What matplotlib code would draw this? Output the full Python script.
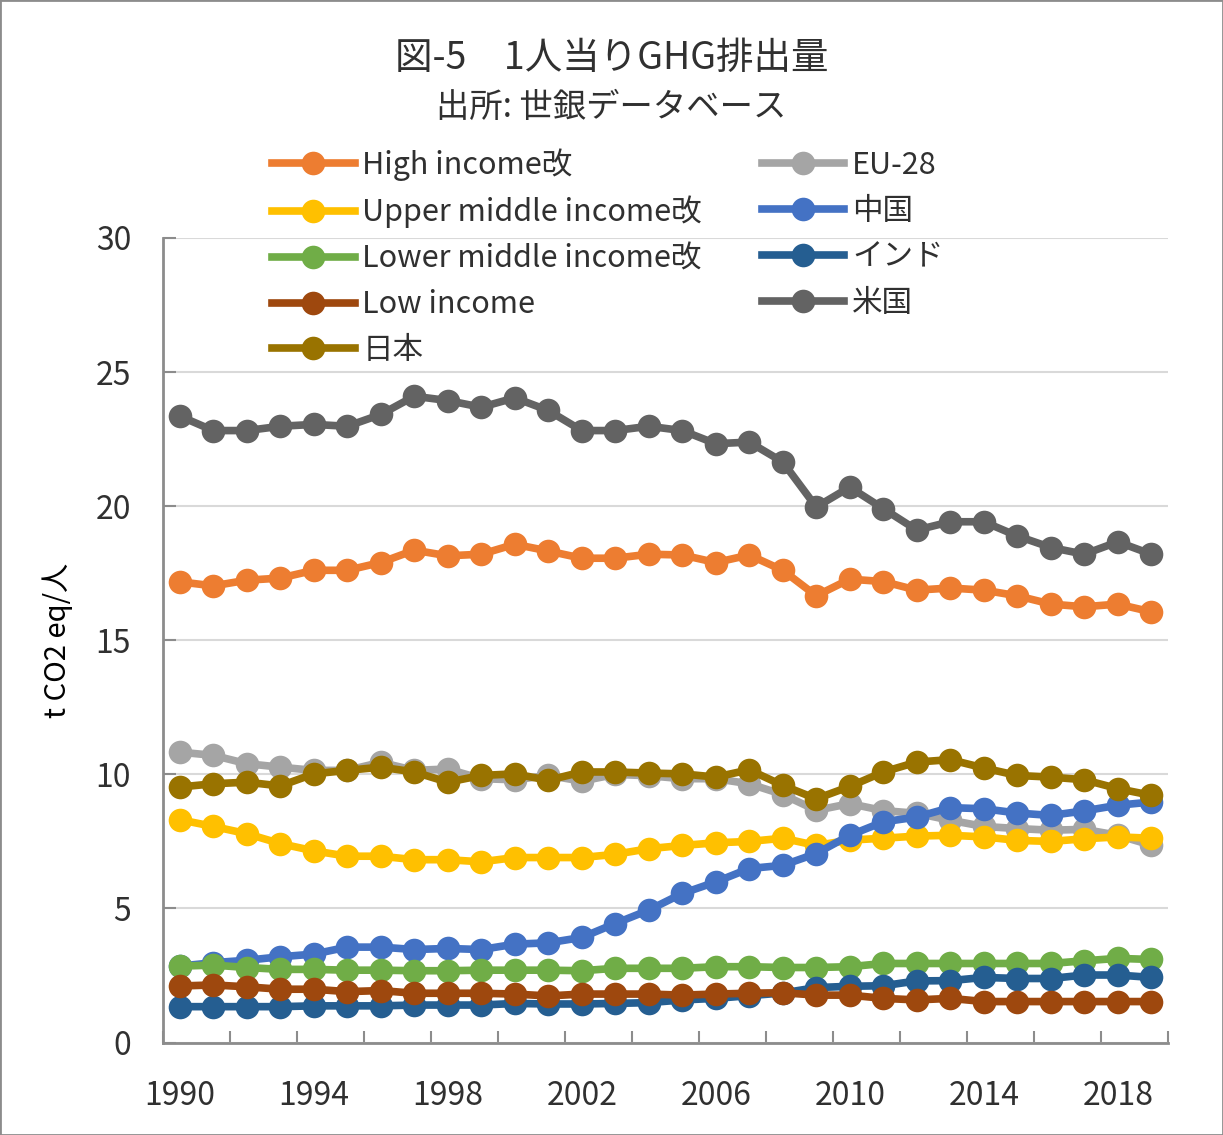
import matplotlib
matplotlib.use('Agg')
import matplotlib.pyplot as plt
from matplotlib.lines import Line2D
from matplotlib.patches import Rectangle

plt.rcParams['font.family'] = ['Noto Sans CJK JP', 'DejaVu Sans']

# データ (世銀データベース, t CO2 eq/人)
years = list(range(1990, 2020))
high_income = [17.18, 17.03, 17.24, 17.32, 17.61, 17.61, 17.90, 18.36, 18.15, 18.21,
               18.58, 18.33, 18.06, 18.06, 18.21, 18.18, 17.90, 18.18, 17.61, 16.66,
               17.28, 17.19, 16.87, 16.95, 16.87, 16.66, 16.35, 16.25, 16.35, 16.06]
eu28 = [10.83, 10.71, 10.40, 10.27, 10.15, 10.15, 10.45, 10.15, 10.20, 9.84,
        9.80, 9.96, 9.75, 10.00, 9.95, 9.84, 9.84, 9.65, 9.25, 8.66,
        8.91, 8.65, 8.55, 8.29, 8.06, 7.98, 7.92, 7.95, 7.73, 7.36]
upper_middle = [8.31, 8.06, 7.79, 7.42, 7.15, 6.95, 6.95, 6.82, 6.82, 6.74,
                6.90, 6.90, 6.90, 7.02, 7.23, 7.35, 7.45, 7.50, 7.62, 7.35,
                7.55, 7.62, 7.70, 7.73, 7.67, 7.54, 7.50, 7.60, 7.67, 7.62]
china = [2.85, 2.98, 3.07, 3.20, 3.30, 3.56, 3.56, 3.47, 3.51, 3.47,
         3.67, 3.72, 3.92, 4.44, 4.94, 5.56, 5.99, 6.49, 6.61, 7.05,
         7.73, 8.23, 8.41, 8.76, 8.72, 8.56, 8.47, 8.64, 8.85, 8.97]
lower_middle = [2.85, 2.89, 2.80, 2.73, 2.73, 2.70, 2.70, 2.68, 2.68, 2.70,
                2.70, 2.70, 2.68, 2.77, 2.77, 2.77, 2.83, 2.83, 2.80, 2.80,
                2.83, 2.95, 2.95, 2.95, 2.95, 2.95, 2.95, 3.05, 3.14, 3.10]
india = [1.34, 1.34, 1.34, 1.34, 1.37, 1.37, 1.37, 1.40, 1.40, 1.40,
         1.46, 1.44, 1.44, 1.46, 1.49, 1.59, 1.65, 1.75, 1.85, 2.05,
         2.10, 2.12, 2.30, 2.31, 2.43, 2.39, 2.39, 2.52, 2.52, 2.43]
low_income = [2.11, 2.15, 2.08, 1.99, 1.99, 1.90, 1.94, 1.84, 1.84, 1.84,
              1.81, 1.74, 1.81, 1.81, 1.81, 1.77, 1.81, 1.84, 1.86, 1.77,
              1.77, 1.65, 1.59, 1.65, 1.53, 1.53, 1.53, 1.53, 1.53, 1.53]
usa = [23.36, 22.82, 22.82, 22.98, 23.05, 22.98, 23.42, 24.10, 23.94, 23.69,
       24.04, 23.57, 22.82, 22.82, 22.98, 22.82, 22.33, 22.39, 21.65, 19.97,
       20.71, 19.91, 19.11, 19.42, 19.42, 18.89, 18.46, 18.21, 18.67, 18.21]
japan = [9.53, 9.65, 9.71, 9.57, 10.02, 10.15, 10.27, 10.09, 9.71, 9.96,
         10.02, 9.78, 10.09, 10.09, 10.05, 10.02, 9.90, 10.17, 9.59, 9.09,
         9.55, 10.09, 10.46, 10.55, 10.24, 9.96, 9.90, 9.80, 9.47, 9.22]

# 描画順 (Excelの系列順)
series = [
    ('High income改', high_income, '#ED7D31'),
    ('EU-28', eu28, '#A5A5A5'),
    ('Upper middle income改', upper_middle, '#FFC000'),
    ('中国', china, '#4472C4'),
    ('Lower middle income改', lower_middle, '#70AD47'),
    ('インド', india, '#255E91'),
    ('Low income', low_income, '#9E480E'),
    ('米国', usa, '#636363'),
    ('日本', japan, '#997300'),
]
# 凡例の並び (列ごと)
legend_order = ['High income改', 'Upper middle income改', 'Lower middle income改',
                'Low income', '日本', 'EU-28', '中国', 'インド', '米国']

text_c = '#303030'
axis_c = '#8C8C8C'

fig = plt.figure(figsize=(12.23, 11.35), dpi=100)
ax = fig.add_axes([163 / 1223, 1 - 1042.6 / 1135, 1005 / 1223, 804.6 / 1135])

handles = {}
for name, vals, col in series:
    ln, = ax.plot(years, vals, color=col, lw=5.5, marker='o', markersize=17,
                  markeredgewidth=0, solid_capstyle='round', label=name)
    handles[name] = ln

ax.set_xlim(1989.5, 2019.5)
ax.set_ylim(0, 30)
ax.set_yticks(range(0, 31, 5))
ax.set_xticks(range(1990, 2020, 4))
ax.set_xticks([1989.5 + 2 * i for i in range(16)], minor=True)
ax.grid(axis='y', color='#D9D9D9', lw=1.5)
ax.set_axisbelow(True)
for s in ['top', 'right']:
    ax.spines[s].set_visible(False)
for s in ['left', 'bottom']:
    ax.spines[s].set_color(axis_c)
    ax.spines[s].set_linewidth(2)
ax.tick_params(axis='y', direction='in', length=9, width=1.5, color=axis_c,
               labelsize=23, labelcolor=text_c, pad=23)
ax.tick_params(axis='x', which='major', length=0, labelsize=23, labelcolor=text_c, pad=27)
ax.tick_params(axis='x', which='minor', direction='in', length=9, width=1.5, color=axis_c)
ax.set_ylabel('t CO2 eq/人', fontsize=21, color='black', labelpad=16)

fig.text(0.5, 1 - 58 / 1135, '図-5\u30001人当りGHG排出量', ha='center', va='center',
         fontsize=27, color=text_c)
fig.text(0.5, 1 - 107 / 1135, '出所: 世銀データベース', ha='center', va='center',
         fontsize=24, color=text_c)

leg_handles = [Line2D([], [], color=handles[n].get_color(), lw=5.5, marker='o',
                      markersize=17, markeredgewidth=0) for n in legend_order]
fig.legend(leg_handles, legend_order, ncol=2, loc='upper left',
           bbox_to_anchor=(272 / 1223, 1 - 148 / 1135), frameon=False,
           fontsize=22, handlelength=2.7, handletextpad=0.26, labelspacing=0.49,
           columnspacing=1.95, borderpad=0, borderaxespad=0, labelcolor=text_c)

fig.patches.append(Rectangle((0, 0), 1, 1, transform=fig.transFigure, fill=False,
                             edgecolor='#8C8C8C', lw=2))

fig.savefig('out.png', dpi=100)
